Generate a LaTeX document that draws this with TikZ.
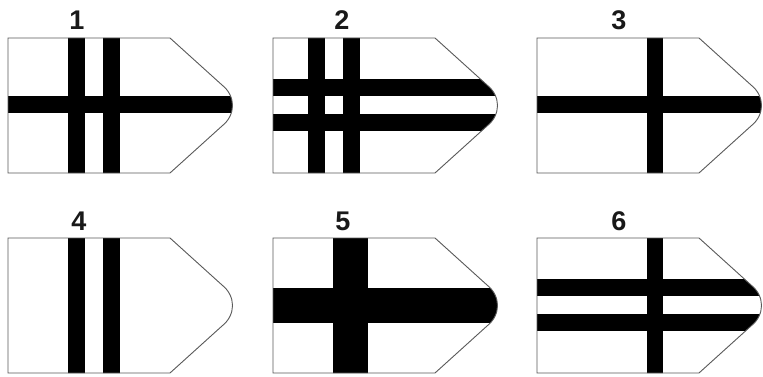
\documentclass[tikz,border=0pt]{standalone}
\usepackage{fontspec}
\setmainfont{Liberation Sans}
\newcommand\drawflag[3]{%
  \begin{scope}[shift={(#1,#2)}]
    \begin{scope}
      \clip (0,0) -- (162,0) -- (214,47) .. controls (228,58) and (228,77) .. (214,88) -- (162,135) -- (0,135) -- cycle;
      #3
    \end{scope}
    \draw[outline] (0,0) -- (162,0) -- (214,47) .. controls (228,58) and (228,77) .. (214,88) -- (162,135) -- (0,135) -- cycle;
  \end{scope}}
\begin{document}
\begin{tikzpicture}[x=1pt,y=-1pt,
  outline/.style={draw=black!65, line width=0.9pt},
  bar/.style={fill=black},
  lbl/.style={font=\fontsize{27}{27}\selectfont\bfseries, inner sep=0pt, text=black!90}]
\fill[white] (0,0) rectangle (763,377);
\useasboundingbox (0,0) rectangle (763,377);

% flag 1
\drawflag{8}{38}{%
  \fill[bar] (60,-5) rectangle (77,140);
  \fill[bar] (95,-5) rectangle (112,140);
  \fill[bar] (-5,58.5) rectangle (240,75.5);}
% flag 2
\drawflag{273}{38}{%
  \fill[bar] (35,-5) rectangle (52,140);
  \fill[bar] (70,-5) rectangle (87,140);
  \fill[bar] (-5,41) rectangle (240,58);
  \fill[bar] (-5,76) rectangle (240,93);}
% flag 3
\drawflag{537}{38}{%
  \fill[bar] (110,-5) rectangle (126,140);
  \fill[bar] (-5,58.5) rectangle (240,75.5);}
% flag 4
\drawflag{8}{238}{%
  \fill[bar] (60,-5) rectangle (77,140);
  \fill[bar] (95,-5) rectangle (112,140);}
% flag 5
\drawflag{273}{238}{%
  \fill[bar] (60,-5) rectangle (95,140);
  \fill[bar] (-5,50) rectangle (240,85);}
% flag 6
\drawflag{537}{238}{%
  \fill[bar] (110,-5) rectangle (126,140);
  \fill[bar] (-5,41) rectangle (240,58);
  \fill[bar] (-5,76) rectangle (240,93);}

\node[lbl] (l1) at (77,20) {1};
\node[lbl] (l2) at (342,20) {2};
\node[lbl] (l3) at (619,20) {3};
\node[lbl] (l4) at (79,221) {4};
\node[lbl] (l5) at (343,221) {5};
\node[lbl] (l6) at (619,221) {6};
\end{tikzpicture}
\end{document}
